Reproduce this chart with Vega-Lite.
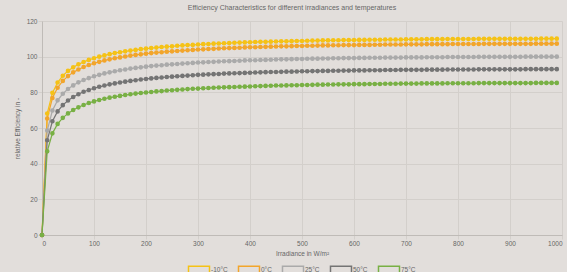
{
  "$schema": "https://vega.github.io/schema/vega-lite/v6.json",
  "autosize": {"type": "none"},
  "width": 520,
  "height": 214,
  "padding": {"left": 42, "top": 21, "right": 5, "bottom": 37},
  "background": "#e2dedb",
  "title": {"text": "Efficiency Characteristics for different irradiances and temperatures", "fontSize": 7, "color": "#666666", "fontWeight": "normal", "offset": 7, "dx": -10},
  "data": {"values": [
{"G":0,"T":"-10°C","v":0},{"G":10,"T":"-10°C","v":68.1},{"G":20,"T":"-10°C","v":79.7},{"G":30,"T":"-10°C","v":85.5},{"G":40,"T":"-10°C","v":89.3},{"G":50,"T":"-10°C","v":92.0},{"G":60,"T":"-10°C","v":94.0},{"G":70,"T":"-10°C","v":95.7},{"G":80,"T":"-10°C","v":97.0},{"G":90,"T":"-10°C","v":98.2},
{"G":100,"T":"-10°C","v":99.1},{"G":110,"T":"-10°C","v":100.0},{"G":120,"T":"-10°C","v":100.7},{"G":130,"T":"-10°C","v":101.4},{"G":140,"T":"-10°C","v":102.0},{"G":150,"T":"-10°C","v":102.5},{"G":160,"T":"-10°C","v":103.0},{"G":170,"T":"-10°C","v":103.4},{"G":180,"T":"-10°C","v":103.8},{"G":190,"T":"-10°C","v":104.2},
{"G":200,"T":"-10°C","v":104.5},{"G":210,"T":"-10°C","v":104.8},{"G":220,"T":"-10°C","v":105.1},{"G":230,"T":"-10°C","v":105.4},{"G":240,"T":"-10°C","v":105.6},{"G":250,"T":"-10°C","v":105.8},{"G":260,"T":"-10°C","v":106.1},{"G":270,"T":"-10°C","v":106.3},{"G":280,"T":"-10°C","v":106.5},{"G":290,"T":"-10°C","v":106.6},
{"G":300,"T":"-10°C","v":106.8},{"G":310,"T":"-10°C","v":107.0},{"G":320,"T":"-10°C","v":107.1},{"G":330,"T":"-10°C","v":107.3},{"G":340,"T":"-10°C","v":107.4},{"G":350,"T":"-10°C","v":107.5},{"G":360,"T":"-10°C","v":107.6},{"G":370,"T":"-10°C","v":107.8},{"G":380,"T":"-10°C","v":107.9},{"G":390,"T":"-10°C","v":108.0},
{"G":400,"T":"-10°C","v":108.1},{"G":410,"T":"-10°C","v":108.2},{"G":420,"T":"-10°C","v":108.3},{"G":430,"T":"-10°C","v":108.3},{"G":440,"T":"-10°C","v":108.4},{"G":450,"T":"-10°C","v":108.5},{"G":460,"T":"-10°C","v":108.6},{"G":470,"T":"-10°C","v":108.6},{"G":480,"T":"-10°C","v":108.7},{"G":490,"T":"-10°C","v":108.8},
{"G":500,"T":"-10°C","v":108.8},{"G":510,"T":"-10°C","v":108.9},{"G":520,"T":"-10°C","v":109.0},{"G":530,"T":"-10°C","v":109.0},{"G":540,"T":"-10°C","v":109.1},{"G":550,"T":"-10°C","v":109.1},{"G":560,"T":"-10°C","v":109.2},{"G":570,"T":"-10°C","v":109.2},{"G":580,"T":"-10°C","v":109.3},{"G":590,"T":"-10°C","v":109.3},
{"G":600,"T":"-10°C","v":109.3},{"G":610,"T":"-10°C","v":109.4},{"G":620,"T":"-10°C","v":109.4},{"G":630,"T":"-10°C","v":109.5},{"G":640,"T":"-10°C","v":109.5},{"G":650,"T":"-10°C","v":109.5},{"G":660,"T":"-10°C","v":109.6},{"G":670,"T":"-10°C","v":109.6},{"G":680,"T":"-10°C","v":109.6},{"G":690,"T":"-10°C","v":109.6},
{"G":700,"T":"-10°C","v":109.7},{"G":710,"T":"-10°C","v":109.7},{"G":720,"T":"-10°C","v":109.7},{"G":730,"T":"-10°C","v":109.7},{"G":740,"T":"-10°C","v":109.8},{"G":750,"T":"-10°C","v":109.8},{"G":760,"T":"-10°C","v":109.8},{"G":770,"T":"-10°C","v":109.8},{"G":780,"T":"-10°C","v":109.9},{"G":790,"T":"-10°C","v":109.9},
{"G":800,"T":"-10°C","v":109.9},{"G":810,"T":"-10°C","v":109.9},{"G":820,"T":"-10°C","v":109.9},{"G":830,"T":"-10°C","v":109.9},{"G":840,"T":"-10°C","v":110.0},{"G":850,"T":"-10°C","v":110.0},{"G":860,"T":"-10°C","v":110.0},{"G":870,"T":"-10°C","v":110.0},{"G":880,"T":"-10°C","v":110.0},{"G":890,"T":"-10°C","v":110.0},
{"G":900,"T":"-10°C","v":110.0},{"G":910,"T":"-10°C","v":110.0},{"G":920,"T":"-10°C","v":110.0},{"G":930,"T":"-10°C","v":110.0},{"G":940,"T":"-10°C","v":110.0},{"G":950,"T":"-10°C","v":110.0},{"G":960,"T":"-10°C","v":110.1},{"G":970,"T":"-10°C","v":110.1},{"G":980,"T":"-10°C","v":110.1},{"G":990,"T":"-10°C","v":110.1},
{"G":0,"T":"0°C","v":0},{"G":10,"T":"0°C","v":65.3},{"G":20,"T":"0°C","v":76.8},{"G":30,"T":"0°C","v":82.6},{"G":40,"T":"0°C","v":86.4},{"G":50,"T":"0°C","v":89.1},{"G":60,"T":"0°C","v":91.2},{"G":70,"T":"0°C","v":92.8},{"G":80,"T":"0°C","v":94.2},{"G":90,"T":"0°C","v":95.3},
{"G":100,"T":"0°C","v":96.3},{"G":110,"T":"0°C","v":97.1},{"G":120,"T":"0°C","v":97.9},{"G":130,"T":"0°C","v":98.5},{"G":140,"T":"0°C","v":99.1},{"G":150,"T":"0°C","v":99.6},{"G":160,"T":"0°C","v":100.1},{"G":170,"T":"0°C","v":100.6},{"G":180,"T":"0°C","v":101.0},{"G":190,"T":"0°C","v":101.3},
{"G":200,"T":"0°C","v":101.7},{"G":210,"T":"0°C","v":102.0},{"G":220,"T":"0°C","v":102.3},{"G":230,"T":"0°C","v":102.5},{"G":240,"T":"0°C","v":102.8},{"G":250,"T":"0°C","v":103.0},{"G":260,"T":"0°C","v":103.2},{"G":270,"T":"0°C","v":103.4},{"G":280,"T":"0°C","v":103.6},{"G":290,"T":"0°C","v":103.8},
{"G":300,"T":"0°C","v":104.0},{"G":310,"T":"0°C","v":104.1},{"G":320,"T":"0°C","v":104.3},{"G":330,"T":"0°C","v":104.4},{"G":340,"T":"0°C","v":104.6},{"G":350,"T":"0°C","v":104.7},{"G":360,"T":"0°C","v":104.8},{"G":370,"T":"0°C","v":104.9},{"G":380,"T":"0°C","v":105.0},{"G":390,"T":"0°C","v":105.2},
{"G":400,"T":"0°C","v":105.3},{"G":410,"T":"0°C","v":105.3},{"G":420,"T":"0°C","v":105.4},{"G":430,"T":"0°C","v":105.5},{"G":440,"T":"0°C","v":105.6},{"G":450,"T":"0°C","v":105.7},{"G":460,"T":"0°C","v":105.8},{"G":470,"T":"0°C","v":105.8},{"G":480,"T":"0°C","v":105.9},{"G":490,"T":"0°C","v":106.0},
{"G":500,"T":"0°C","v":106.0},{"G":510,"T":"0°C","v":106.1},{"G":520,"T":"0°C","v":106.1},{"G":530,"T":"0°C","v":106.2},{"G":540,"T":"0°C","v":106.3},{"G":550,"T":"0°C","v":106.3},{"G":560,"T":"0°C","v":106.4},{"G":570,"T":"0°C","v":106.4},{"G":580,"T":"0°C","v":106.5},{"G":590,"T":"0°C","v":106.5},
{"G":600,"T":"0°C","v":106.5},{"G":610,"T":"0°C","v":106.6},{"G":620,"T":"0°C","v":106.6},{"G":630,"T":"0°C","v":106.6},{"G":640,"T":"0°C","v":106.7},{"G":650,"T":"0°C","v":106.7},{"G":660,"T":"0°C","v":106.8},{"G":670,"T":"0°C","v":106.8},{"G":680,"T":"0°C","v":106.8},{"G":690,"T":"0°C","v":106.8},
{"G":700,"T":"0°C","v":106.9},{"G":710,"T":"0°C","v":106.9},{"G":720,"T":"0°C","v":106.9},{"G":730,"T":"0°C","v":106.9},{"G":740,"T":"0°C","v":107.0},{"G":750,"T":"0°C","v":107.0},{"G":760,"T":"0°C","v":107.0},{"G":770,"T":"0°C","v":107.0},{"G":780,"T":"0°C","v":107.0},{"G":790,"T":"0°C","v":107.1},
{"G":800,"T":"0°C","v":107.1},{"G":810,"T":"0°C","v":107.1},{"G":820,"T":"0°C","v":107.1},{"G":830,"T":"0°C","v":107.1},{"G":840,"T":"0°C","v":107.1},{"G":850,"T":"0°C","v":107.2},{"G":860,"T":"0°C","v":107.2},{"G":870,"T":"0°C","v":107.2},{"G":880,"T":"0°C","v":107.2},{"G":890,"T":"0°C","v":107.2},
{"G":900,"T":"0°C","v":107.2},{"G":910,"T":"0°C","v":107.2},{"G":920,"T":"0°C","v":107.2},{"G":930,"T":"0°C","v":107.2},{"G":940,"T":"0°C","v":107.2},{"G":950,"T":"0°C","v":107.3},{"G":960,"T":"0°C","v":107.3},{"G":970,"T":"0°C","v":107.3},{"G":980,"T":"0°C","v":107.3},{"G":990,"T":"0°C","v":107.3},
{"G":0,"T":"25°C","v":0},{"G":10,"T":"25°C","v":58.6},{"G":20,"T":"25°C","v":69.8},{"G":30,"T":"25°C","v":75.5},{"G":40,"T":"25°C","v":79.2},{"G":50,"T":"25°C","v":81.9},{"G":60,"T":"25°C","v":83.9},{"G":70,"T":"25°C","v":85.6},{"G":80,"T":"25°C","v":86.9},{"G":90,"T":"25°C","v":88.0},
{"G":100,"T":"25°C","v":89.0},{"G":110,"T":"25°C","v":89.8},{"G":120,"T":"25°C","v":90.6},{"G":130,"T":"25°C","v":91.2},{"G":140,"T":"25°C","v":91.8},{"G":150,"T":"25°C","v":92.4},{"G":160,"T":"25°C","v":92.8},{"G":170,"T":"25°C","v":93.3},{"G":180,"T":"25°C","v":93.7},{"G":190,"T":"25°C","v":94.0},
{"G":200,"T":"25°C","v":94.4},{"G":210,"T":"25°C","v":94.7},{"G":220,"T":"25°C","v":95.0},{"G":230,"T":"25°C","v":95.2},{"G":240,"T":"25°C","v":95.5},{"G":250,"T":"25°C","v":95.7},{"G":260,"T":"25°C","v":95.9},{"G":270,"T":"25°C","v":96.1},{"G":280,"T":"25°C","v":96.3},{"G":290,"T":"25°C","v":96.5},
{"G":300,"T":"25°C","v":96.7},{"G":310,"T":"25°C","v":96.8},{"G":320,"T":"25°C","v":97.0},{"G":330,"T":"25°C","v":97.1},{"G":340,"T":"25°C","v":97.3},{"G":350,"T":"25°C","v":97.4},{"G":360,"T":"25°C","v":97.5},{"G":370,"T":"25°C","v":97.6},{"G":380,"T":"25°C","v":97.7},{"G":390,"T":"25°C","v":97.9},
{"G":400,"T":"25°C","v":98.0},{"G":410,"T":"25°C","v":98.0},{"G":420,"T":"25°C","v":98.1},{"G":430,"T":"25°C","v":98.2},{"G":440,"T":"25°C","v":98.3},{"G":450,"T":"25°C","v":98.4},{"G":460,"T":"25°C","v":98.5},{"G":470,"T":"25°C","v":98.5},{"G":480,"T":"25°C","v":98.6},{"G":490,"T":"25°C","v":98.7},
{"G":500,"T":"25°C","v":98.7},{"G":510,"T":"25°C","v":98.8},{"G":520,"T":"25°C","v":98.9},{"G":530,"T":"25°C","v":98.9},{"G":540,"T":"25°C","v":99.0},{"G":550,"T":"25°C","v":99.0},{"G":560,"T":"25°C","v":99.1},{"G":570,"T":"25°C","v":99.1},{"G":580,"T":"25°C","v":99.2},{"G":590,"T":"25°C","v":99.2},
{"G":600,"T":"25°C","v":99.2},{"G":610,"T":"25°C","v":99.3},{"G":620,"T":"25°C","v":99.3},{"G":630,"T":"25°C","v":99.4},{"G":640,"T":"25°C","v":99.4},{"G":650,"T":"25°C","v":99.4},{"G":660,"T":"25°C","v":99.5},{"G":670,"T":"25°C","v":99.5},{"G":680,"T":"25°C","v":99.5},{"G":690,"T":"25°C","v":99.5},
{"G":700,"T":"25°C","v":99.6},{"G":710,"T":"25°C","v":99.6},{"G":720,"T":"25°C","v":99.6},{"G":730,"T":"25°C","v":99.6},{"G":740,"T":"25°C","v":99.7},{"G":750,"T":"25°C","v":99.7},{"G":760,"T":"25°C","v":99.7},{"G":770,"T":"25°C","v":99.7},{"G":780,"T":"25°C","v":99.8},{"G":790,"T":"25°C","v":99.8},
{"G":800,"T":"25°C","v":99.8},{"G":810,"T":"25°C","v":99.8},{"G":820,"T":"25°C","v":99.8},{"G":830,"T":"25°C","v":99.8},{"G":840,"T":"25°C","v":99.9},{"G":850,"T":"25°C","v":99.9},{"G":860,"T":"25°C","v":99.9},{"G":870,"T":"25°C","v":99.9},{"G":880,"T":"25°C","v":99.9},{"G":890,"T":"25°C","v":99.9},
{"G":900,"T":"25°C","v":99.9},{"G":910,"T":"25°C","v":99.9},{"G":920,"T":"25°C","v":99.9},{"G":930,"T":"25°C","v":100.0},{"G":940,"T":"25°C","v":100.0},{"G":950,"T":"25°C","v":100.0},{"G":960,"T":"25°C","v":100.0},{"G":970,"T":"25°C","v":100.0},{"G":980,"T":"25°C","v":100.0},{"G":990,"T":"25°C","v":100.0},
{"G":0,"T":"50°C","v":0},{"G":10,"T":"50°C","v":53.1},{"G":20,"T":"50°C","v":63.8},{"G":30,"T":"50°C","v":69.3},{"G":40,"T":"50°C","v":72.8},{"G":50,"T":"50°C","v":75.4},{"G":60,"T":"50°C","v":77.4},{"G":70,"T":"50°C","v":78.9},{"G":80,"T":"50°C","v":80.3},{"G":90,"T":"50°C","v":81.3},
{"G":100,"T":"50°C","v":82.3},{"G":110,"T":"50°C","v":83.1},{"G":120,"T":"50°C","v":83.8},{"G":130,"T":"50°C","v":84.5},{"G":140,"T":"50°C","v":85.0},{"G":150,"T":"50°C","v":85.5},{"G":160,"T":"50°C","v":86.0},{"G":170,"T":"50°C","v":86.4},{"G":180,"T":"50°C","v":86.8},{"G":190,"T":"50°C","v":87.2},
{"G":200,"T":"50°C","v":87.5},{"G":210,"T":"50°C","v":87.8},{"G":220,"T":"50°C","v":88.1},{"G":230,"T":"50°C","v":88.3},{"G":240,"T":"50°C","v":88.6},{"G":250,"T":"50°C","v":88.8},{"G":260,"T":"50°C","v":89.0},{"G":270,"T":"50°C","v":89.2},{"G":280,"T":"50°C","v":89.4},{"G":290,"T":"50°C","v":89.6},
{"G":300,"T":"50°C","v":89.8},{"G":310,"T":"50°C","v":89.9},{"G":320,"T":"50°C","v":90.1},{"G":330,"T":"50°C","v":90.2},{"G":340,"T":"50°C","v":90.3},{"G":350,"T":"50°C","v":90.5},{"G":360,"T":"50°C","v":90.6},{"G":370,"T":"50°C","v":90.7},{"G":380,"T":"50°C","v":90.8},{"G":390,"T":"50°C","v":90.9},
{"G":400,"T":"50°C","v":91.0},{"G":410,"T":"50°C","v":91.1},{"G":420,"T":"50°C","v":91.2},{"G":430,"T":"50°C","v":91.3},{"G":440,"T":"50°C","v":91.4},{"G":450,"T":"50°C","v":91.4},{"G":460,"T":"50°C","v":91.5},{"G":470,"T":"50°C","v":91.6},{"G":480,"T":"50°C","v":91.6},{"G":490,"T":"50°C","v":91.7},
{"G":500,"T":"50°C","v":91.8},{"G":510,"T":"50°C","v":91.8},{"G":520,"T":"50°C","v":91.9},{"G":530,"T":"50°C","v":91.9},{"G":540,"T":"50°C","v":92.0},{"G":550,"T":"50°C","v":92.0},{"G":560,"T":"50°C","v":92.1},{"G":570,"T":"50°C","v":92.1},{"G":580,"T":"50°C","v":92.2},{"G":590,"T":"50°C","v":92.2},
{"G":600,"T":"50°C","v":92.3},{"G":610,"T":"50°C","v":92.3},{"G":620,"T":"50°C","v":92.3},{"G":630,"T":"50°C","v":92.4},{"G":640,"T":"50°C","v":92.4},{"G":650,"T":"50°C","v":92.4},{"G":660,"T":"50°C","v":92.5},{"G":670,"T":"50°C","v":92.5},{"G":680,"T":"50°C","v":92.5},{"G":690,"T":"50°C","v":92.6},
{"G":700,"T":"50°C","v":92.6},{"G":710,"T":"50°C","v":92.6},{"G":720,"T":"50°C","v":92.6},{"G":730,"T":"50°C","v":92.6},{"G":740,"T":"50°C","v":92.7},{"G":750,"T":"50°C","v":92.7},{"G":760,"T":"50°C","v":92.7},{"G":770,"T":"50°C","v":92.7},{"G":780,"T":"50°C","v":92.8},{"G":790,"T":"50°C","v":92.8},
{"G":800,"T":"50°C","v":92.8},{"G":810,"T":"50°C","v":92.8},{"G":820,"T":"50°C","v":92.8},{"G":830,"T":"50°C","v":92.8},{"G":840,"T":"50°C","v":92.9},{"G":850,"T":"50°C","v":92.9},{"G":860,"T":"50°C","v":92.9},{"G":870,"T":"50°C","v":92.9},{"G":880,"T":"50°C","v":92.9},{"G":890,"T":"50°C","v":92.9},
{"G":900,"T":"50°C","v":92.9},{"G":910,"T":"50°C","v":92.9},{"G":920,"T":"50°C","v":92.9},{"G":930,"T":"50°C","v":93.0},{"G":940,"T":"50°C","v":93.0},{"G":950,"T":"50°C","v":93.0},{"G":960,"T":"50°C","v":93.0},{"G":970,"T":"50°C","v":93.0},{"G":980,"T":"50°C","v":93.0},{"G":990,"T":"50°C","v":93.0},
{"G":0,"T":"75°C","v":0},{"G":10,"T":"75°C","v":46.9},{"G":20,"T":"75°C","v":57.0},{"G":30,"T":"75°C","v":62.3},{"G":40,"T":"75°C","v":65.7},{"G":50,"T":"75°C","v":68.2},{"G":60,"T":"75°C","v":70.1},{"G":70,"T":"75°C","v":71.6},{"G":80,"T":"75°C","v":72.9},{"G":90,"T":"75°C","v":74.0},
{"G":100,"T":"75°C","v":74.9},{"G":110,"T":"75°C","v":75.7},{"G":120,"T":"75°C","v":76.4},{"G":130,"T":"75°C","v":77.0},{"G":140,"T":"75°C","v":77.5},{"G":150,"T":"75°C","v":78.0},{"G":160,"T":"75°C","v":78.5},{"G":170,"T":"75°C","v":78.9},{"G":180,"T":"75°C","v":79.3},{"G":190,"T":"75°C","v":79.6},
{"G":200,"T":"75°C","v":79.9},{"G":210,"T":"75°C","v":80.2},{"G":220,"T":"75°C","v":80.5},{"G":230,"T":"75°C","v":80.7},{"G":240,"T":"75°C","v":81.0},{"G":250,"T":"75°C","v":81.2},{"G":260,"T":"75°C","v":81.4},{"G":270,"T":"75°C","v":81.6},{"G":280,"T":"75°C","v":81.8},{"G":290,"T":"75°C","v":82.0},
{"G":300,"T":"75°C","v":82.1},{"G":310,"T":"75°C","v":82.3},{"G":320,"T":"75°C","v":82.4},{"G":330,"T":"75°C","v":82.6},{"G":340,"T":"75°C","v":82.7},{"G":350,"T":"75°C","v":82.8},{"G":360,"T":"75°C","v":82.9},{"G":370,"T":"75°C","v":83.0},{"G":380,"T":"75°C","v":83.1},{"G":390,"T":"75°C","v":83.2},
{"G":400,"T":"75°C","v":83.3},{"G":410,"T":"75°C","v":83.4},{"G":420,"T":"75°C","v":83.5},{"G":430,"T":"75°C","v":83.6},{"G":440,"T":"75°C","v":83.7},{"G":450,"T":"75°C","v":83.8},{"G":460,"T":"75°C","v":83.8},{"G":470,"T":"75°C","v":83.9},{"G":480,"T":"75°C","v":84.0},{"G":490,"T":"75°C","v":84.0},
{"G":500,"T":"75°C","v":84.1},{"G":510,"T":"75°C","v":84.1},{"G":520,"T":"75°C","v":84.2},{"G":530,"T":"75°C","v":84.3},{"G":540,"T":"75°C","v":84.3},{"G":550,"T":"75°C","v":84.4},{"G":560,"T":"75°C","v":84.4},{"G":570,"T":"75°C","v":84.5},{"G":580,"T":"75°C","v":84.5},{"G":590,"T":"75°C","v":84.5},
{"G":600,"T":"75°C","v":84.6},{"G":610,"T":"75°C","v":84.6},{"G":620,"T":"75°C","v":84.6},{"G":630,"T":"75°C","v":84.7},{"G":640,"T":"75°C","v":84.7},{"G":650,"T":"75°C","v":84.7},{"G":660,"T":"75°C","v":84.8},{"G":670,"T":"75°C","v":84.8},{"G":680,"T":"75°C","v":84.8},{"G":690,"T":"75°C","v":84.9},
{"G":700,"T":"75°C","v":84.9},{"G":710,"T":"75°C","v":84.9},{"G":720,"T":"75°C","v":84.9},{"G":730,"T":"75°C","v":85.0},{"G":740,"T":"75°C","v":85.0},{"G":750,"T":"75°C","v":85.0},{"G":760,"T":"75°C","v":85.0},{"G":770,"T":"75°C","v":85.0},{"G":780,"T":"75°C","v":85.1},{"G":790,"T":"75°C","v":85.1},
{"G":800,"T":"75°C","v":85.1},{"G":810,"T":"75°C","v":85.1},{"G":820,"T":"75°C","v":85.1},{"G":830,"T":"75°C","v":85.1},{"G":840,"T":"75°C","v":85.2},{"G":850,"T":"75°C","v":85.2},{"G":860,"T":"75°C","v":85.2},{"G":870,"T":"75°C","v":85.2},{"G":880,"T":"75°C","v":85.2},{"G":890,"T":"75°C","v":85.2},
{"G":900,"T":"75°C","v":85.2},{"G":910,"T":"75°C","v":85.2},{"G":920,"T":"75°C","v":85.2},{"G":930,"T":"75°C","v":85.2},{"G":940,"T":"75°C","v":85.2},{"G":950,"T":"75°C","v":85.3},{"G":960,"T":"75°C","v":85.3},{"G":970,"T":"75°C","v":85.3},{"G":980,"T":"75°C","v":85.3},{"G":990,"T":"75°C","v":85.3}
  ]},
  "encoding": {
    "x": {"field": "G", "type": "quantitative", "title": "Irradiance in W/m²",
      "scale": {"domain": [0, 1000], "nice": false, "zero": false},
      "axis": {"values": [0,100,200,300,400,500,600,700,800,900,1000], "format": "d", "titlePadding": 4}},
    "y": {"field": "v", "type": "quantitative", "title": "relative Efficiency in -",
      "scale": {"domain": [0, 120], "nice": false},
      "axis": {"values": [0,20,40,60,80,100,120], "titlePadding": 6}},
    "stroke": {"field": "T", "type": "nominal",
      "scale": {"domain": ["-10°C","0°C","25°C","50°C","75°C"], "range": ["#f5c216","#f2a52b","#aaaaaa","#747474","#78b044"]},
      "legend": {"title": null, "orient": "none", "direction": "horizontal", "legendX": 148, "legendY": 239.6, "padding": 0,
        "symbolType": "M-1.3,-0.45H1.3V0.45H-1.3Z", "symbolSize": 261, "symbolStrokeWidth": 1.5, "symbolFillColor": "#ebe8e5",
        "labelFontSize": 6.5, "labelColor": "#666666", "labelOffset": 3, "columnPadding": 7}}
  },
  "layer": [
    {"mark": {"type": "line", "strokeWidth": 1.2}},
    {"mark": {"type": "point", "filled": false, "size": 5, "strokeWidth": 2.4, "opacity": 1}}
  ],
  "config": {
    "font": "Liberation Sans",
    "view": {"stroke": null},
    "axis": {"gridColor": "#d3cfcb", "gridWidth": 1, "gridOpacity": 1, "tickColor": "#d3cfcb", "tickSize": 4, "labelFontSize": 6.5, "labelColor": "#666666", "labelPadding": 1,
      "titleFontSize": 6.5, "titleColor": "#666666", "titleFontWeight": "normal", "domainColor": "#bfbbb7", "domainWidth": 1}
  }
}
